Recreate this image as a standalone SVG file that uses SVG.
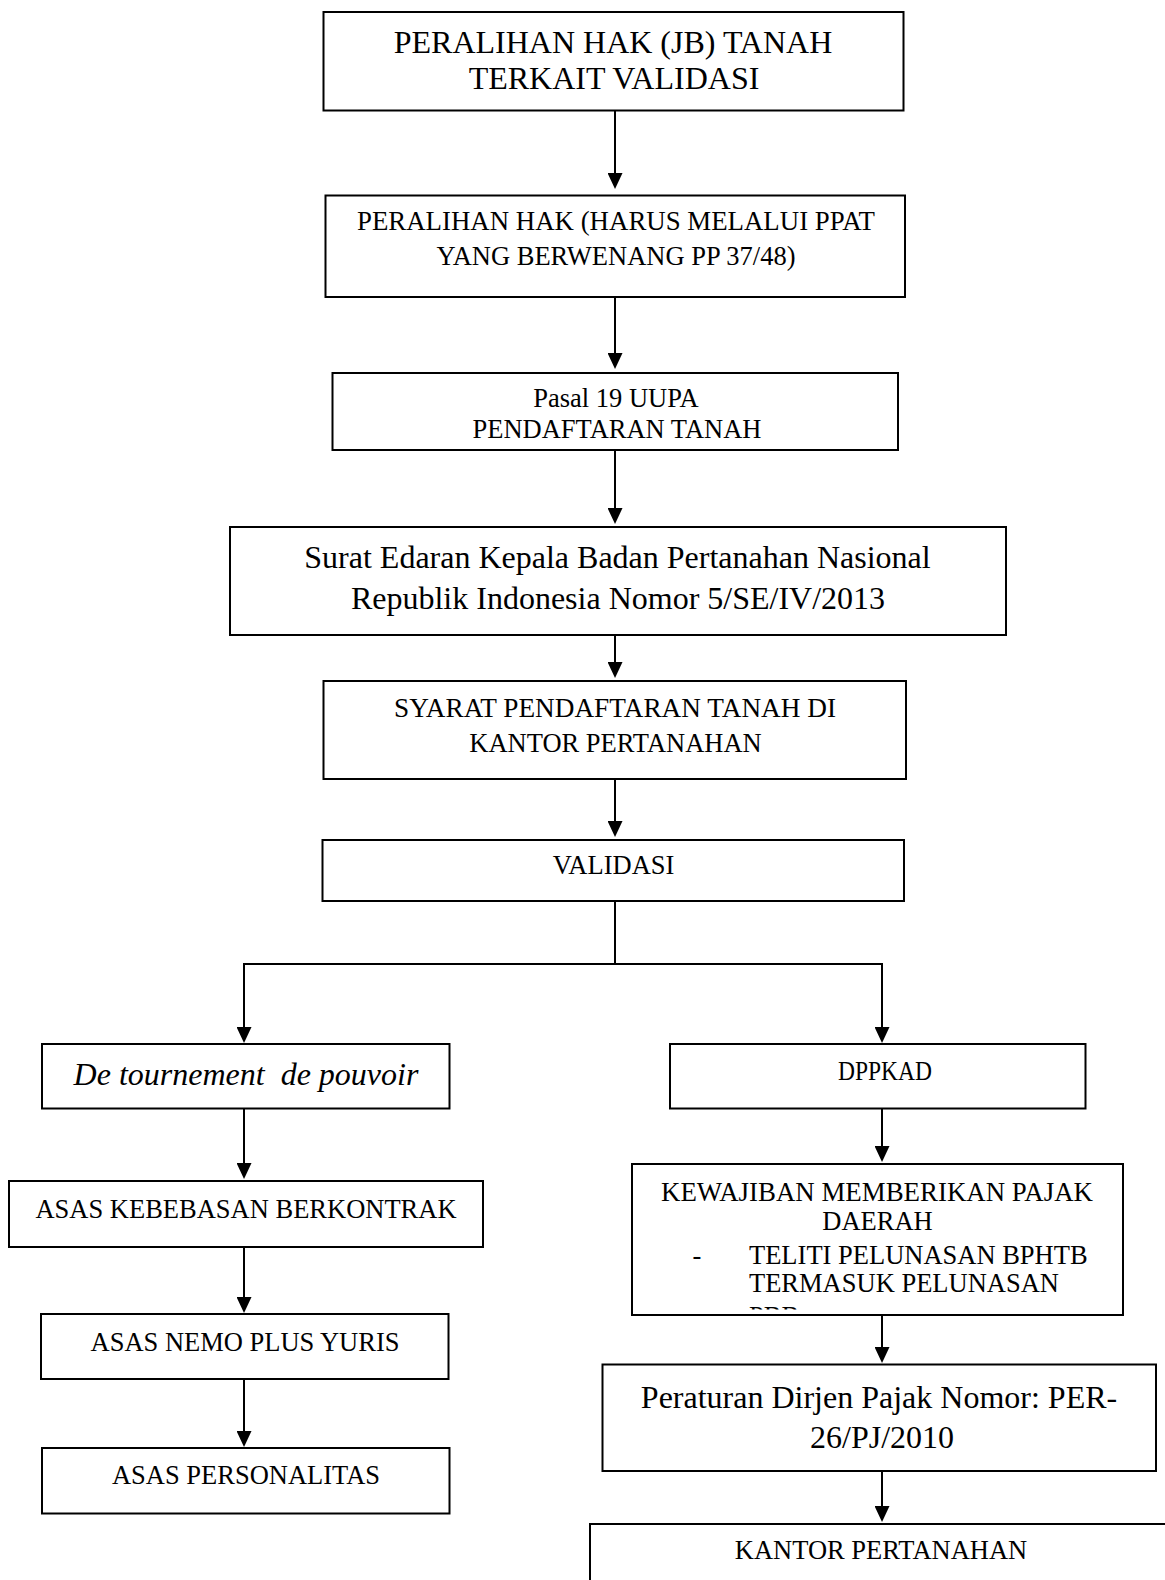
<svg xmlns="http://www.w3.org/2000/svg" width="1165" height="1580" viewBox="0 0 1165 1580">
<style>
.box{fill:#fff;stroke:#000;stroke-width:2}
.t{font-family:"Liberation Serif","Times New Roman",serif;font-size:26.5px;fill:#000;text-anchor:middle}
.tl{font-size:32px}
.ti{font-style:italic;font-size:32px;white-space:pre}
.st{text-anchor:start}
.c{fill:none;stroke:#000;stroke-width:2}
</style>
<defs>
<marker id="ah" viewBox="0 0 16 15" refX="4" refY="7.5" markerWidth="16" markerHeight="15" markerUnits="userSpaceOnUse" orient="auto">
<path d="M0,0 L16,7.5 L0,15 z" fill="#000"/>
</marker>
<clipPath id="clip12"><rect x="633" y="1165" width="489" height="144.5"/></clipPath>
</defs>
<rect width="1165" height="1580" fill="#fff"/>
<g id="connectors">
<line class="c" x1="615" y1="111" x2="615" y2="177" marker-end="url(#ah)"/>
<line class="c" x1="615" y1="297" x2="615" y2="357" marker-end="url(#ah)"/>
<line class="c" x1="615" y1="450" x2="615" y2="512" marker-end="url(#ah)"/>
<line class="c" x1="615" y1="635" x2="615" y2="666" marker-end="url(#ah)"/>
<line class="c" x1="615" y1="779" x2="615" y2="825" marker-end="url(#ah)"/>
<line class="c" x1="615" y1="901" x2="615" y2="964" stroke-width="1.5"/>
<line class="c" x1="243" y1="964" x2="883" y2="964"/>
<line class="c" x1="244" y1="964" x2="244" y2="1031" marker-end="url(#ah)"/>
<line class="c" x1="882" y1="964" x2="882" y2="1031" marker-end="url(#ah)"/>
<line class="c" x1="244" y1="1108" x2="244" y2="1167" marker-end="url(#ah)"/>
<line class="c" x1="244" y1="1247" x2="244" y2="1301" marker-end="url(#ah)"/>
<line class="c" x1="244" y1="1379" x2="244" y2="1435" marker-end="url(#ah)"/>
<line class="c" x1="882" y1="1108" x2="882" y2="1150" marker-end="url(#ah)"/>
<line class="c" x1="882" y1="1315" x2="882" y2="1351" marker-end="url(#ah)"/>
<line class="c" x1="882" y1="1471" x2="882" y2="1510" marker-end="url(#ah)"/>
</g>
<g id="n1">
<rect class="box" x="323.5" y="12" width="580" height="98.5"/>
<text class="t tl" x="613" y="53">PERALIHAN HAK (JB) TANAH</text>
<text class="t tl" x="614" y="89">TERKAIT VALIDASI</text>
</g>
<g id="n2">
<rect class="box" x="325.5" y="195.5" width="579.5" height="101.5"/>
<text class="t" x="616" y="229.5" textLength="518" lengthAdjust="spacingAndGlyphs">PERALIHAN HAK (HARUS MELALUI PPAT</text>
<text class="t" x="616" y="265">YANG BERWENANG PP 37/48)</text>
</g>
<g id="n3">
<rect class="box" x="332.5" y="373" width="565.5" height="77"/>
<text class="t" x="616" y="407">Pasal 19 UUPA</text>
<text class="t" x="617" y="438">PENDAFTARAN TANAH</text>
</g>
<g id="n4">
<rect class="box" x="230" y="527" width="776" height="108"/>
<text class="t tl" x="617.5" y="567.5">Surat Edaran Kepala Badan Pertanahan Nasional</text>
<text class="t tl" x="618" y="609">Republik Indonesia Nomor 5/SE/IV/2013</text>
</g>
<g id="n5">
<rect class="box" x="323.5" y="681" width="582.5" height="98"/>
<text class="t" x="615" y="717" textLength="442" lengthAdjust="spacingAndGlyphs">SYARAT PENDAFTARAN TANAH DI</text>
<text class="t" x="615.5" y="751.5">KANTOR PERTANAHAN</text>
</g>
<g id="n6">
<rect class="box" x="322.5" y="840" width="581.5" height="61"/>
<text class="t" x="613.5" y="873.5">VALIDASI</text>
</g>
<g id="n7">
<rect class="box" x="42" y="1044" width="407.5" height="64.5"/>
<text class="t ti" x="246" y="1085" xml:space="preserve">De tournement  de pouvoir</text>
</g>
<g id="n8">
<rect class="box" x="670" y="1044" width="415.5" height="64.5"/>
<text class="t" x="885" y="1080" textLength="94" lengthAdjust="spacingAndGlyphs">DPPKAD</text>
</g>
<g id="n9">
<rect class="box" x="9" y="1181" width="474" height="66"/>
<text class="t" x="246" y="1218">ASAS KEBEBASAN BERKONTRAK</text>
</g>
<g id="n10">
<rect class="box" x="41" y="1314" width="407.5" height="65"/>
<text class="t" x="245" y="1351">ASAS NEMO PLUS YURIS</text>
</g>
<g id="n11">
<rect class="box" x="42" y="1448" width="407.5" height="65.5"/>
<text class="t" x="246" y="1484">ASAS PERSONALITAS</text>
</g>
<g id="n12">
<rect class="box" x="632" y="1164" width="491" height="151"/>
<g clip-path="url(#clip12)">
<text class="t" x="877" y="1201" textLength="432" lengthAdjust="spacingAndGlyphs">KEWAJIBAN MEMBERIKAN PAJAK</text>
<text class="t" x="877.5" y="1230">DAERAH</text>
<text class="t" x="697" y="1263.5">-</text>
<text class="t st" x="749" y="1263.5">TELITI PELUNASAN BPHTB</text>
<text class="t st" x="749" y="1292">TERMASUK PELUNASAN</text>
<text class="t st" x="749" y="1325">PBB</text>
</g>
</g>
<g id="n13">
<rect class="box" x="602.5" y="1364.5" width="553.5" height="106.5"/>
<text class="t tl" x="879" y="1407.5">Peraturan Dirjen Pajak Nomor: PER-</text>
<text class="t tl" x="882" y="1448">26/PJ/2010</text>
</g>
<g id="n14">
<rect class="box" x="590" y="1524" width="620" height="100"/>
<text class="t" x="881" y="1559">KANTOR PERTANAHAN</text>
</g>
</svg>
